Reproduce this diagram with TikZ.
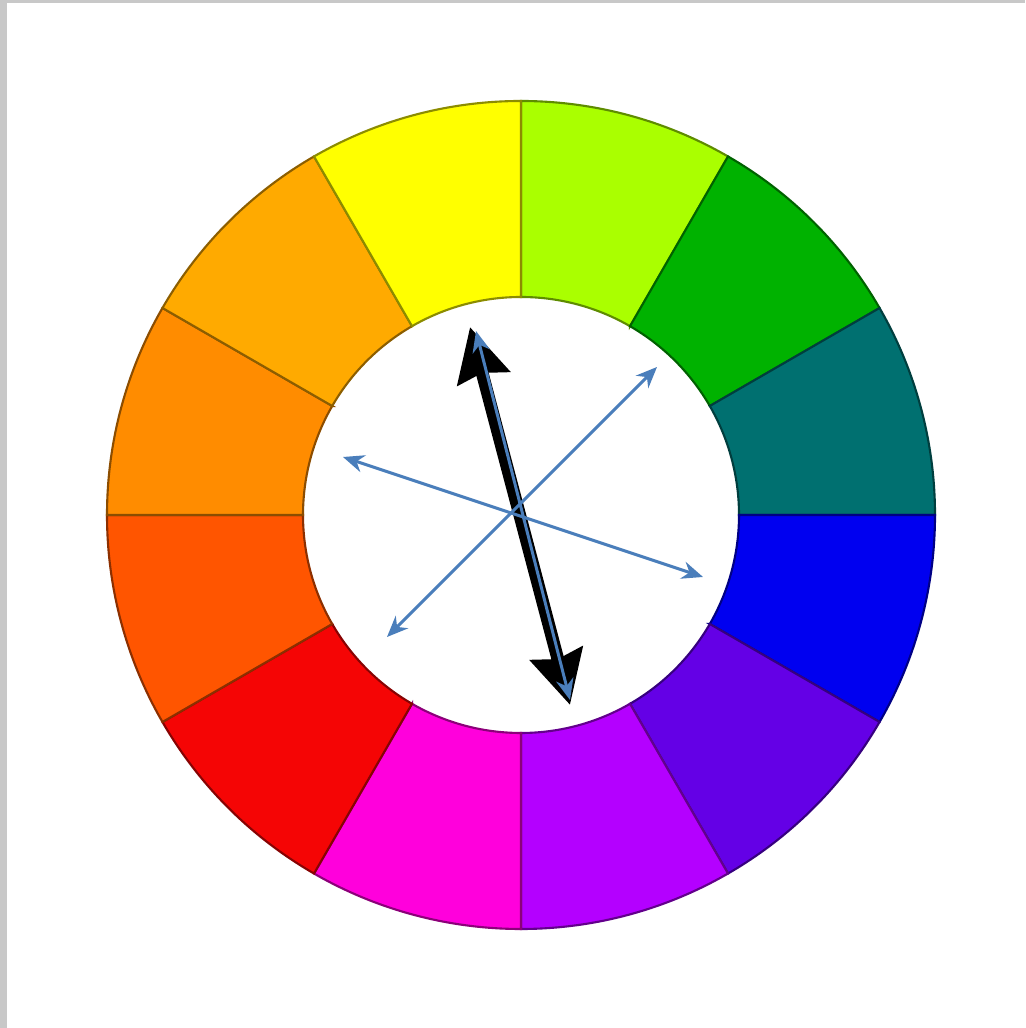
\documentclass[tikz,border=0pt]{standalone}
\usetikzlibrary{arrows.meta}
\definecolor{frameGray}{RGB}{200,200,200}
\definecolor{wheelYellow}{RGB}{255,255,0}
\definecolor{wheelYellowGreen}{RGB}{170,255,0}
\definecolor{wheelGreen}{RGB}{0,178,0}
\definecolor{wheelTeal}{RGB}{0,112,112}
\definecolor{wheelBlue}{RGB}{0,0,240}
\definecolor{wheelViolet}{RGB}{100,0,230}
\definecolor{wheelPurple}{RGB}{180,0,255}
\definecolor{wheelMagenta}{RGB}{255,0,220}
\definecolor{wheelRed}{RGB}{245,5,5}
\definecolor{wheelRedOrange}{RGB}{255,85,0}
\definecolor{wheelOrange}{RGB}{255,140,0}
\definecolor{wheelYellowOrange}{RGB}{255,170,0}
\definecolor{arrowBlue}{RGB}{74,126,187}
\tikzset{
  thinpair/.style={{Stealth[length=6pt,width=5pt]}-{Stealth[length=6pt,width=5pt]}, draw=arrowBlue, line width=0.85pt},
  thickpair/.style={{Stealth[length=15pt,width=15pt,inset=1.5pt]}-{Stealth[length=15pt,width=15pt,inset=1.5pt]}, draw=black, line width=3.6pt}
}
\begin{document}
\begin{tikzpicture}[line width=0.5pt]
  \useasboundingbox (0,0) rectangle (10.25,10.28);
  \fill[white] (0,0) rectangle (10.25,10.28);
  \fill[frameGray] (0,0) rectangle (0.07,10.28);
  \fill[frameGray] (0,10.25) rectangle (10.25,10.28);
  \coordinate (ctr) at (5.21,5.13);
  % twelve segments of the ring, clockwise from the top
  \foreach \a/\c in {60/wheelYellowGreen, 30/wheelGreen, 0/wheelTeal, -30/wheelBlue,
      -60/wheelViolet, -90/wheelPurple, -120/wheelMagenta, -150/wheelRed,
      -180/wheelRedOrange, 150/wheelOrange, 120/wheelYellowOrange, 90/wheelYellow}
  {
    \pgfmathsetmacro\b{\a+30}
    \draw[fill=\c, draw=\c!55!black, line width=0.6pt]
      ([shift={(\a:2.18)}]ctr) -- ([shift={(\a:4.14)}]ctr)
      arc[start angle=\a, end angle=\b, radius=4.14]
      -- ([shift={(\b:2.18)}]ctr)
      arc[start angle=\b, end angle=\a, radius=2.18] -- cycle;
  }
  \coordinate (kTop) at (4.70,7.01);
  \coordinate (kBot) at (5.70,3.23);
  \coordinate (cTop) at (4.76,6.97);
  \coordinate (cBot) at (5.70,3.28);
  \coordinate (aLeft) at (3.43,5.71);
  \coordinate (aRight) at (7.03,4.51);
  \coordinate (bRight) at (6.57,6.61);
  \coordinate (bLeft) at (3.87,3.91);
  \draw[thickpair] (kTop) -- (kBot);
  \draw[thinpair] (cTop) -- (cBot);
  \draw[thinpair] (aLeft) -- (aRight);
  \draw[thinpair] (bRight) -- (bLeft);
\end{tikzpicture}
\end{document}
